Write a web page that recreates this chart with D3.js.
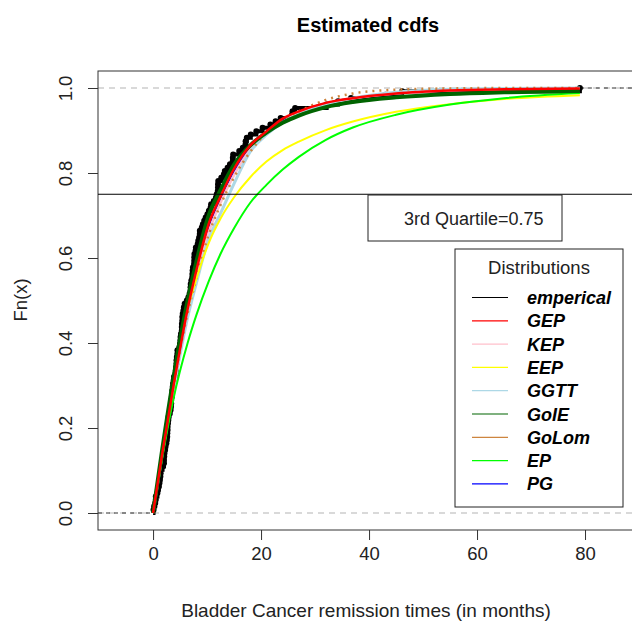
<!DOCTYPE html>
<html>
<head>
<meta charset="utf-8">
<script src="https://cdn.jsdelivr.net/npm/d3@7"></script>
<style>
  body { margin: 0; background: #fff; }
  svg { font-family: 'Liberation Sans', Arial, sans-serif; }
</style>
</head>
<body>
<svg id="chart" width="632" height="622"></svg>
<script>
// Bladder cancer remission times (months), used for the empirical cdf
const remission = [
  0.08, 2.09, 3.48, 4.87, 6.94, 8.66, 13.11, 23.63, 0.20, 2.23, 3.52, 4.98, 6.97, 9.02, 13.29,
  0.40, 2.26, 3.57, 5.06, 7.09, 9.22, 13.80, 25.74, 0.50, 2.46, 3.64, 5.09, 7.26, 9.47, 14.24,
  25.82, 0.51, 2.54, 3.70, 5.17, 7.28, 9.74, 14.76, 26.31, 0.81, 2.62, 3.82, 5.32, 7.32, 10.06,
  14.77, 32.15, 2.64, 3.88, 5.32, 7.39, 10.34, 14.83, 34.26, 0.90, 2.69, 4.18, 5.34, 7.59, 10.66,
  15.96, 36.66, 1.05, 2.69, 4.23, 5.41, 7.62, 10.75, 16.62, 43.01, 1.19, 2.75, 4.26, 5.41, 7.63,
  17.12, 46.12, 1.26, 2.83, 4.33, 5.49, 7.66, 11.25, 17.14, 79.05, 1.35, 2.87, 5.62, 7.87, 11.64,
  17.36, 1.40, 3.02, 4.34, 5.71, 7.93, 11.79, 18.10, 1.46, 4.40, 5.85, 8.26, 11.98, 19.13, 1.76,
  3.25, 4.50, 6.25, 8.37, 12.02, 2.02, 3.31, 4.51, 6.54, 8.53, 12.03, 20.28, 2.02, 3.36, 6.76,
  12.07, 21.73, 2.07, 3.36, 6.93, 8.65, 12.63, 22.69
]

const grid = [0, 1.7, 3.8, 6.4, 8, 10.3, 12.5, 15, 18, 21, 24, 27, 32, 37, 45, 55, 65, 79.05]

const cdfPG    = [0, .14, .30, .475, .565, .675, .74, .805, .86, .895, .922, .943, .964, .976, .987, .994, .997, .999]
const cdfKEP   = [0, .14, .295, .47, .555, .66, .73, .795, .855, .892, .92, .942, .962, .975, .987, .994, .997, .999]
const cdfGGTT  = [0, .14, .29, .46, .54, .645, .705, .775, .85, .89, .918, .938, .962, .976, .99, .997, .999, 1.0]
const cdfGoLom = [0, .14, .30, .47, .55, .655, .725, .79, .85, .895, .925, .945, .972, .987, .996, .999, 1.0, 1.0]
const cdfEEP   = [0, .15, .32, .48, .55, .635, .693, .743, .79, .827, .854, .874, .901, .921, .944, .962, .974, .983]
const cdfEP    = [0, .13, .27, .40, .465, .545, .61, .67, .73, .772, .808, .838, .878, .907, .937, .961, .976, .988]
const cdfGoIE  = [0, .15, .32, .50, .59, .70, .76, .82, .865, .895, .918, .935, .955, .967, .978, .986, .99, .993]
const cdfGEP   = [0, .14, .30, .48, .57, .68, .745, .81, .865, .898, .928, .945, .965, .976, .987, .994, .997, .999]

const legendNames = ['emperical', 'GEP', 'KEP', 'EEP', 'GGTT', 'GoIE', 'GoLom', 'EP', 'PG']
const legendColors = ['#000000', '#ff0000', '#ffc0cb', '#ffff00', '#add8e6', '#006400', '#cd853f', '#00ff00', '#0000ff']

const xTicks = [0, 20, 40, 60, 80]
const yTicks = [0, 0.2, 0.4, 0.6, 0.8, 1.0]
const quartile = 0.75

const svg = d3.select('#chart')

const x = d3.scaleLinear().domain([-10.2, 88.7]).range([98, 632])
const y = d3.scaleLinear().domain([-0.04, 1.04]).range([530, 71])

drawAxes()
drawEcdf()
drawFits()
drawQuartile()
drawLegend()

/**
 * Draws the box, the axes, the title and the axis labels.
 */
function drawAxes () {
  const xAxis = svg.append('g')
    .attr('transform', 'translate(0,530)')
    .call(d3.axisBottom(x).tickValues(xTicks).tickSize(10).tickPadding(7))
  xAxis.select('.domain').remove()
  xAxis.selectAll('line').attr('stroke', '#333')
  xAxis.selectAll('text').style('font-size', '18.5px').attr('fill', '#222')

  const yAxis = svg.append('g')
    .attr('transform', 'translate(98,0)')
    .call(d3.axisLeft(y).tickValues(yTicks).tickSize(10).tickFormat(d3.format('.1f')))
  yAxis.select('.domain').remove()
  yAxis.selectAll('line').attr('stroke', '#333')
  // R writes the y labels parallel to the axis
  yAxis.selectAll('text')
    .style('font-size', '18.5px')
    .attr('fill', '#222')
    .attr('x', 0).attr('y', 0).attr('dy', 0)
    .attr('text-anchor', 'middle')
    .attr('transform', 'translate(-26,0) rotate(-90)')

  // Reference lines at 0 and 1 (as plot.ecdf does)
  svg.selectAll('.ref')
    .data([0, 1])
    .enter().append('line')
    .attr('x1', 98).attr('x2', 632)
    .attr('y1', d => y(d)).attr('y2', d => y(d))
    .attr('stroke', '#b3b3b3')
    .attr('stroke-dasharray', '6,5')

  // Plot box, its right side sits just off the page
  svg.append('rect')
    .attr('x', 98).attr('y', 71)
    .attr('width', 540).attr('height', 459)
    .attr('fill', 'none')
    .attr('stroke', '#333')

  svg.append('text')
    .attr('x', 368).attr('y', 32)
    .attr('text-anchor', 'middle')
    .style('font-size', '20px')
    .style('font-weight', 'bold')
    .text('Estimated cdfs')

  svg.append('text')
    .attr('x', 366).attr('y', 617)
    .attr('text-anchor', 'middle')
    .style('font-size', '19px')
    .attr('fill', '#222')
    .text('Bladder Cancer remission times (in months)')

  svg.append('text')
    .attr('transform', 'translate(27,300) rotate(-90)')
    .attr('text-anchor', 'middle')
    .style('font-size', '18.5px')
    .attr('fill', '#222')
    .text('Fn(x)')
}

/**
 * Draws the empirical cdf as a thick step line with a dot on each jump.
 */
function drawEcdf () {
  const sorted = remission.slice().sort(d3.ascending)
  const n = sorted.length
  const steps = sorted.map((v, i) => [v, (i + 1) / n])

  // Tails out to the plot edges
  svg.append('line')
    .attr('x1', 98).attr('x2', x(0))
    .attr('y1', y(0)).attr('y2', y(0))
    .attr('stroke', '#333').attr('stroke-dasharray', '4,4')
  svg.append('line')
    .attr('x1', x(sorted[n - 1])).attr('x2', 632)
    .attr('y1', y(1)).attr('y2', y(1))
    .attr('stroke', '#333').attr('stroke-dasharray', '4,4')

  const line = d3.line()
    .x(d => x(d[0]))
    .y(d => y(d[1]))
    .curve(d3.curveStepAfter)

  svg.append('path')
    .datum([[0, 0]].concat(steps))
    .attr('d', line)
    .attr('fill', 'none')
    .attr('stroke', '#000')
    .attr('stroke-width', 4)

  svg.selectAll('.pt')
    .data(steps)
    .enter().append('circle')
    .attr('cx', d => x(d[0]))
    .attr('cy', d => y(d[1]))
    .attr('r', 3)
    .attr('fill', '#000')
}

/**
 * Draws the fitted cdfs, in the order that leaves GEP on top.
 */
function drawFits () {
  const fits = [
    { values: cdfPG, color: '#0000ff', width: 2 },
    { values: cdfKEP, color: '#ffc0cb', width: 2.5 },
    { values: cdfGGTT, color: '#add8e6', width: 3 },
    { values: cdfGoLom, color: '#cd853f', width: 2.5, dash: '2,5' },
    { values: cdfEEP, color: '#ffff00', width: 2 },
    { values: cdfEP, color: '#00ff00', width: 2 },
    { values: cdfGoIE, color: '#006400', width: 4 },
    { values: cdfGEP, color: '#ff0000', width: 2.5 }
  ]

  const line = d3.line()
    .x(d => x(d[0]))
    .y(d => y(d[1]))
    .curve(d3.curveMonotoneX)

  fits.forEach(f => {
    svg.append('path')
      .datum(grid.map((g, i) => [g, f.values[i]]))
      .attr('d', line)
      .attr('fill', 'none')
      .attr('stroke', f.color)
      .attr('stroke-width', f.width)
      .attr('stroke-dasharray', f.dash || null)
  })
}

/**
 * Draws the third quartile line and its labelled box.
 */
function drawQuartile () {
  svg.append('line')
    .attr('x1', 98).attr('x2', 632)
    .attr('y1', y(quartile)).attr('y2', y(quartile))
    .attr('stroke', '#000')

  svg.append('rect')
    .attr('x', 368).attr('y', 195)
    .attr('width', 194).attr('height', 46)
    .attr('fill', '#fff')
    .attr('stroke', '#222')

  svg.append('text')
    .attr('x', 404).attr('y', 225)
    .style('font-size', '18px')
    .attr('fill', '#222')
    .text('3rd Quartile=' + quartile)
}

/**
 * Draws the legend of the distributions.
 */
function drawLegend () {
  const legend = svg.append('g')

  legend.append('rect')
    .attr('x', 455).attr('y', 249)
    .attr('width', 168).attr('height', 258)
    .attr('fill', '#fff')
    .attr('stroke', '#222')

  legend.append('text')
    .attr('x', 539).attr('y', 274)
    .attr('text-anchor', 'middle')
    .style('font-size', '18.5px')
    .attr('fill', '#222')
    .text('Distributions')

  const rows = legend.selectAll('.row')
    .data(legendNames)
    .enter().append('g')
    .attr('transform', (d, i) => `translate(0,${297.5 + i * 23.3})`)

  rows.append('line')
    .attr('x1', 472).attr('x2', 508)
    .attr('stroke', (d, i) => legendColors[i])
    .attr('stroke-width', 1.2)

  rows.append('text')
    .attr('x', 527).attr('y', 6.5)
    .style('font-size', '18px')
    .style('font-weight', 'bold')
    .style('font-style', 'italic')
    .text(d => d)
}
</script>
</body>
</html>
